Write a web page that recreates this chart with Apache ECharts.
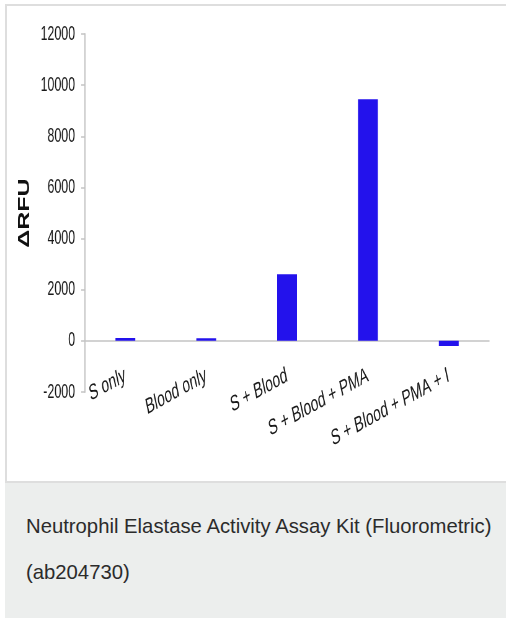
<!DOCTYPE html>
<html>
<head>
<meta charset="utf-8">
<script src="https://cdn.jsdelivr.net/npm/echarts@6/dist/echarts.min.js"></script>
<style>
  html, body { margin:0; padding:0; background:#fff; width:506px; height:619px; overflow:hidden; }
  #panel { position:absolute; left:5px; top:4px; width:540px; height:479px; border:2px solid #dedede; box-sizing:border-box; background:#fff; }
  /* the reference chart image is horizontally squeezed; reproduce that squeeze */
  #chart { position:absolute; left:0; top:0; width:816px; height:480px; transform:scaleX(0.62); transform-origin:0 0; }
  #caption { position:absolute; left:5px; top:483px; width:540px; height:135px; background:#eceeed; }
  .cap { position:absolute; left:21px; font-family:"Liberation Sans", Arial, sans-serif; font-size:20.3px; color:#2b2b2b; white-space:nowrap; line-height:20px; }
</style>
</head>
<body>
<div id="panel"></div>
<div id="chart"></div>
<div id="caption">
  <div class="cap" style="top:33px;">Neutrophil Elastase Activity Assay Kit (Fluorometric)</div>
  <div class="cap" style="top:79px;">(ab204730)</div>
</div>
<script>
const categories = ['S only', 'Blood only', 'S + Blood', 'S + Blood + PMA', 'S + Blood + PMA + I'];
const deltaRFU = [110, 100, 2600, 9450, -200];
const yTicks = { min: -2000, max: 12000, step: 2000 };
const yTitle = '\u0394RFU';

const FONT = '"Liberation Sans", Arial, sans-serif';
const chart = echarts.init(document.getElementById('chart'), null, { renderer: 'canvas' });
chart.setOption({
  backgroundColor: 'transparent',
  animation: false,
  grid: { left: 137, right: 27, top: 34, bottom: 88, containLabel: false, outerBoundsMode: 'none' },
  xAxis: {
    type: 'category',
    data: categories,
    axisLine: { onZero: true, lineStyle: { color: '#c4c4c4', width: 1.5 } },
    axisTick: { show: false },
    axisLabel: {
      rotate: 19,
      margin: -17,
      interval: 0,
      fontFamily: FONT,
      fontSize: 22,
      color: '#1a1a1a'
    }
  },
  yAxis: {
    type: 'value',
    min: yTicks.min,
    max: yTicks.max,
    interval: yTicks.step,
    name: yTitle,
    nameLocation: 'middle',
    nameRotate: 90,
    nameGap: 84,
    nameMoveOverlap: false,
    nameTextStyle: { fontFamily: FONT, fontWeight: 'bold', fontSize: 25, color: '#111' },
    axisLine: { show: true, lineStyle: { color: '#c4c4c4', width: 2 } },
    axisTick: { show: true, length: 6, lineStyle: { color: '#c4c4c4', width: 1.5 } },
    splitLine: { show: false },
    axisLabel: {
      margin: 16,
      fontFamily: FONT,
      fontSize: 20,
      color: '#1a1a1a',
      formatter: function (v) { return String(v); }
    }
  },
  series: [{
    type: 'bar',
    data: deltaRFU,
    barWidth: 32,
    itemStyle: { color: '#2312ec' }
  }]
});
</script>
</body>
</html>
